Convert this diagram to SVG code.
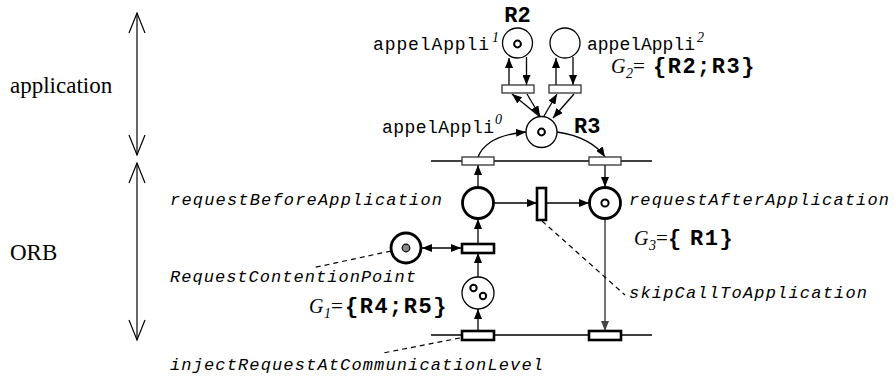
<svg xmlns="http://www.w3.org/2000/svg" width="894" height="381" viewBox="0 0 894 381">
<defs>
<marker id="ah" markerUnits="userSpaceOnUse" markerWidth="10" markerHeight="8" refX="10" refY="4" orient="auto-start-reverse" viewBox="0 0 10 8"><path d="M0,0 L10,4 L0,8 z" fill="#000"/></marker>
<marker id="ahg" markerUnits="userSpaceOnUse" markerWidth="10" markerHeight="8" refX="10" refY="4" orient="auto" viewBox="0 0 10 8"><path d="M0,0 L10,4 L0,8 z" fill="#444"/></marker>
</defs>
<style>
.thin{fill:#fff;stroke:#000;stroke-width:1.3}
.thick{fill:#fff;stroke:#000;stroke-width:2.8}
.trt{fill:#fff;stroke:#333;stroke-width:1.3}
.trk{fill:#fff;stroke:#000;stroke-width:2.6}
.tok{fill:#fff;stroke:#000;stroke-width:2}
.ar{fill:none;stroke:#000;stroke-width:1.3;marker-end:url(#ah)}
.arg{fill:none;stroke:#444;stroke-width:1.5;marker-end:url(#ahg)}
.ln{fill:none;stroke:#000;stroke-width:1.6}
.mono{font-family:"Liberation Mono",monospace;font-size:18px}
.it{font-family:"Liberation Mono",monospace;font-style:italic;font-size:17px}
.bold{font-family:"Liberation Mono",monospace;font-weight:bold;font-size:22px}
.gb{font-family:"Liberation Mono",monospace;font-weight:bold;font-size:22px;letter-spacing:1.5px}
.serif{font-family:"Liberation Serif",serif;font-size:23px}
.sup{font-family:"Liberation Serif",serif;font-style:italic;font-size:14px}
.gi{font-family:"Liberation Serif",serif;font-style:italic;font-size:20px}
.eq{font-family:"Liberation Serif",serif;font-style:normal;font-size:21px}
.dash{stroke:#000;stroke-width:1.2;stroke-dasharray:5,4;fill:none}
.v{fill:none;stroke:#000;stroke-width:1.2}
</style>

<g id="layers">
<text class="serif" x="10" y="93">application</text>
<text class="serif" x="10" y="260">ORB</text>
<line class="v" x1="137" y1="13" x2="137" y2="155"/>
<polyline class="v" points="129,33 137,13 145,33"/>
<polyline class="v" points="129,135 137,155 145,135"/>
<line class="v" x1="137" y1="163" x2="137" y2="340"/>
<polyline class="v" points="129,183 137,163 145,183"/>
<polyline class="v" points="129,320 137,340 145,320"/>
</g>

<g id="connectors">
<line class="ln" x1="431" y1="161" x2="652" y2="161"/>
<line class="ln" x1="431" y1="335" x2="652" y2="335"/>
<line class="ar" x1="509" y1="85" x2="509" y2="58"/>
<line class="ar" x1="526.5" y1="57" x2="526.5" y2="85"/>
<line class="ar" x1="556" y1="85" x2="556" y2="58"/>
<line class="ar" x1="573" y1="57" x2="573" y2="85"/>
<line class="ar" x1="539" y1="116" x2="512" y2="94"/>
<line class="ar" x1="527" y1="94" x2="540" y2="116"/>
<line class="ar" x1="544" y1="116" x2="557" y2="94"/>
<line class="ar" x1="574" y1="94" x2="553" y2="118"/>
<path class="ar" d="M478,157 C484,142 502,134 526,132"/>
<path class="ar" d="M557,132 C580,135 597,145 605,157"/>
<line class="ar" x1="478" y1="187" x2="478" y2="165"/>
<line class="ar" x1="605" y1="165" x2="605" y2="187"/>
<line class="ar" x1="494" y1="203" x2="537" y2="203"/>
<line class="ar" x1="546" y1="203" x2="589" y2="203"/>
<line class="ar" x1="478" y1="244" x2="478" y2="219"/>
<line class="ar" x1="478" y1="277" x2="478" y2="253"/>
<line class="ar" x1="478" y1="331" x2="478" y2="309"/>
<line class="ar" x1="422" y1="248" x2="461" y2="248" style="marker-start:url(#ah)"/>
<line class="arg" x1="605" y1="219" x2="605" y2="331"/>
<line class="dash" x1="542" y1="221" x2="625" y2="295"/>
<line class="dash" x1="391" y1="251" x2="312" y2="268"/>
<line class="dash" x1="460" y1="338" x2="383" y2="353"/>
</g>

<g id="appelAppli1">
<circle class="thin" cx="517.5" cy="43" r="15"/>
<circle class="tok" cx="517.5" cy="44" r="3.4"/>
<text class="bold" x="517.5" y="22" text-anchor="middle">R2</text>
<text class="mono" x="373" y="50" textLength="116">appelAppli</text>
<text class="sup" x="492" y="42">1</text>
</g>
<g id="appelAppli2">
<circle class="thin" cx="565" cy="43" r="15"/>
<text class="mono" x="587" y="50" textLength="108">appelAppli</text>
<text class="sup" x="697" y="42">2</text>
</g>
<g id="t_app1"><rect class="trt" x="502" y="85" width="32" height="8"/></g>
<g id="t_app2"><rect class="trt" x="549" y="85" width="32" height="8"/></g>
<g id="appelAppli0">
<circle class="thin" cx="541.5" cy="132" r="15.5"/>
<circle class="tok" cx="541.5" cy="132" r="3.4"/>
<text class="bold" x="574" y="133">R3</text>
<text class="mono" x="382" y="133" textLength="112">appelAppli</text>
<text class="sup" x="495" y="124">0</text>
</g>
<g id="G2">
<text y="73"><tspan class="gi" x="611">G</tspan><tspan class="sup" x="626" dy="5">2</tspan><tspan class="eq" x="633" dy="-5">=</tspan><tspan class="gb" x="653">{R2;R3}</tspan></text>
</g>
<g id="t_top_left"><rect class="trt" x="462" y="157" width="32" height="8"/></g>
<g id="t_top_right"><rect class="trt" x="589" y="157" width="32" height="8"/></g>

<g id="requestBeforeApplication">
<circle class="thick" cx="478" cy="203" r="15.5"/>
<text class="it" x="170" y="205" textLength="272">requestBeforeApplication</text>
</g>
<g id="skipCallToApplication">
<rect class="trk" x="537" y="188" width="9" height="32"/>
<text class="it" x="629" y="298" textLength="238">skipCallToApplication</text>
</g>
<g id="requestAfterApplication">
<circle class="thick" cx="605" cy="203" r="15.5"/>
<circle class="tok" cx="605" cy="203" r="3.6"/>
<text class="it" x="629" y="205" textLength="260">requestAfterApplication</text>
</g>
<g id="G3">
<text y="245"><tspan class="gi" x="634">G</tspan><tspan class="sup" x="649" dy="5">3</tspan><tspan class="eq" x="656" dy="-5">=</tspan><tspan class="gb" x="668">{</tspan><tspan class="gb" x="690">R1}</tspan></text>
</g>
<g id="RequestContentionPoint">
<circle class="thick" cx="406" cy="248" r="15"/>
<circle cx="406" cy="248" r="3.8" fill="#888" stroke="#000" stroke-width="1.2"/>
<text class="it" x="170" y="282" textLength="246">RequestContentionPoint</text>
</g>
<g id="t_contention"><rect class="trk" x="462" y="244" width="32" height="9"/></g>
<g id="G1place">
<circle class="thin" cx="478" cy="293" r="16"/>
<circle class="tok" cx="473.5" cy="288" r="3.2"/>
<circle class="tok" cx="483" cy="296" r="3.2"/>
</g>
<g id="G1">
<text y="313"><tspan class="gi" x="309">G</tspan><tspan class="sup" x="324" dy="5">1</tspan><tspan class="eq" x="331" dy="-5">=</tspan><tspan class="gb" x="345">{R4;R5}</tspan></text>
</g>
<g id="injectRequestAtCommunicationLevel">
<rect class="trk" x="462" y="331" width="32" height="9"/>
<text class="it" x="170" y="370" textLength="373">injectRequestAtCommunicationLevel</text>
</g>
<g id="t_bottom_right"><rect class="trk" x="589" y="331" width="32" height="9"/></g>
</svg>
